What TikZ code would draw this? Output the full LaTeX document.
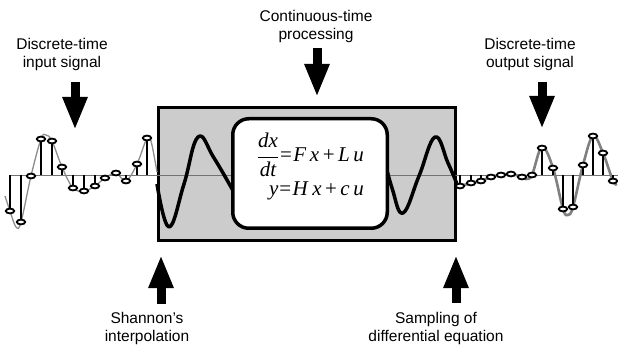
\documentclass[tikz,border=0pt]{standalone}
\usepackage{fontspec}
\setmainfont{Liberation Sans}
\newfontfamily\eqfont{Liberation Serif}
\usetikzlibrary{arrows.meta}

\tikzset{
  freccia/.style={line width=9pt,-{Triangle[length=33pt,width=23pt]}},
  etichetta/.style={align=center,font=\fontsize{15.5}{18}\selectfont,inner sep=0pt},
  asta/.style={line width=2.6pt},
  campione/.style={draw=black,fill=white,line width=1.8pt},
  equazione/.style={font=\eqfont\fontsize{21}{24}\selectfont,inner sep=0pt,anchor=base east},
}

\begin{document}
\begin{tikzpicture}[x=1pt,y=-1pt]
    \useasboundingbox (0,0) rectangle (618,347);
    % Scatola
    \draw[fill=black!20,line width=3pt] (158.5,107.5) rectangle (455.5,240.5);
    % Asse
    \draw[black!55,line width=0.8pt] (10,175) -- (618,175);
    % Segnale continuo
    \draw[line width=3.5pt,line join=round] plot[smooth,tension=0.7] coordinates
        {(157,184) (169,227) (184,184) (198,137) (214,158) (236,196)};
    \draw[line width=3.5pt,line join=round] plot[smooth,tension=0.7] coordinates
        {(382,150) (392,188) (403,213) (419,176) (435,137) (448,163) (457,184)};
    % Segnale di ingresso
    \draw[black!45,line width=1.3pt] plot[smooth,tension=0.6] coordinates
        {(5,196) (10,211) (16,227) (21,222) (31,176) (41,139) (46,135) (52,141)
         (62,167) (73,188) (84,191) (95,186) (105,178) (116,173) (126,181)
         (137,164) (147,138) (151,141) (157,172)};
    \foreach \x/\y in {10/211,21/222,31/176,41/139,52/141,62/167,73/188,84/191,
                       95/186,105/178,116/173,126/181,137/164,147/138}
    {
        \draw[asta] (\x,175) -- (\x,\y);
        \draw[campione] (\x,\y) ellipse [x radius=4.2pt,y radius=2.4pt];
    }
    % Segnale di uscita
    \draw[black!50,line width=2.6pt] plot[smooth,tension=0.6] coordinates
        {(457,184) (460,186) (471,183) (481,181) (491,177) (501,175) (511,174)
         (522,177) (526,179) (532,175) (542,147) (553,168) (563,209) (568,215)
         (573,207) (583,165) (593,136) (603,153) (613,181) (617,184)};
    \foreach \x/\y in {460/186,471/183,481/181,491/177,501/175,511/174,522/177,
                       532/175,542/148,553/168,563/209,573/207,583/165,593/136,
                       603/153,613/181}
    {
        \draw[asta] (\x,175) -- (\x,\y);
        \draw[campione] (\x,\y) ellipse [x radius=4.2pt,y radius=2.4pt];
    }
    % Sistema
    \node[draw,fill=white,line width=3.5pt,rounded corners=16pt,
          minimum width=154.5pt,minimum height=109.5pt] (sistema) at (310,173.5) {};
    \node[equazione] (eqa) at (364,162)
        {$\displaystyle\frac{\hbox{\itshape dx}}{\hbox{\itshape dt}}$\kern1pt=\kern1.5pt\textit{F}\,\textit{x}\,+\,\textit{L}\,\textit{u}};
    \node[equazione] (eqb) at (364,196)
        {\textit{y}\kern1pt=\kern1.5pt\textit{H}\,\textit{x}\,+\,\textit{c}\,\textit{u}};
    % Etichette
    \node[etichetta] (ingresso) at (62,54) {Discrete-time\\input signal};
    \node[etichetta] (continuo) at (316,26) {Continuous-time\\processing};
    \node[etichetta] (uscita) at (530,54) {Discrete-time\\output signal};
    \node[etichetta] (shannon) at (147,328) {Shannon's\\interpolation};
    \node[etichetta] (campion) at (436,328) {Sampling of\\differential equation};
    % Frecce
    \coordinate (ina) at (75,82);   \coordinate (inb) at (75,130);
    \coordinate (coa) at (317,48);  \coordinate (cob) at (317,97);
    \coordinate (usa) at (542,82);  \coordinate (usb) at (542,129);
    \coordinate (sha) at (161,304); \coordinate (shb) at (161,255);
    \coordinate (caa) at (456,303); \coordinate (cab) at (456,255);
    \draw[freccia] (ina) -- (inb);
    \draw[freccia] (coa) -- (cob);
    \draw[freccia] (usa) -- (usb);
    \draw[freccia] (sha) -- (shb);
    \draw[freccia] (caa) -- (cab);
\end{tikzpicture}
\end{document}
